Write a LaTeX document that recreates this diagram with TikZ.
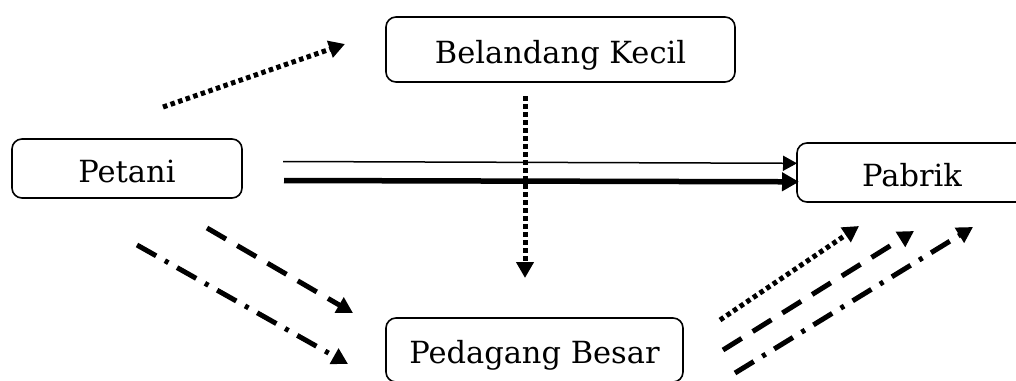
\documentclass[tikz,border=0pt]{standalone}
\usepackage{fontspec}
\setmainfont{DejaVu Serif}
\usetikzlibrary{arrows.meta}
\tikzset{
  box/.style={draw, line width=1.6pt, rounded corners=10pt, inner sep=0pt, align=center, text height=30pt, text depth=3pt, font=\fontsize{30.5}{35}\selectfont},
  dotline/.style={line width=5pt, dash pattern=on 4.5pt off 3.5pt, -{Triangle[length=16pt,width=17pt]}},
  dashline/.style={line width=5pt, dash pattern=on 22pt off 13pt, -{Triangle[length=16pt,width=17pt]}},
  dashdotline/.style={line width=5pt, dash pattern=on 22pt off 10pt on 4pt off 10pt, -{Triangle[length=16pt,width=17pt]}},
  thinline/.style={line width=1.5pt, -{Triangle[length=14pt,width=15pt]}},
  thickline/.style={line width=5.5pt, -{Triangle[length=17pt,width=18pt]}}
}
\begin{document}
\begin{tikzpicture}[x=1pt,y=-1pt]
\clip (0,0) rectangle (1016,380);
\fill[white] (0,0) rectangle (1016,380);

\node[box, minimum width=230pt, minimum height=59pt] (petani) at (127,168.5) {Petani};
\node[box, minimum width=349pt, minimum height=65pt] (belandang) at (560.5,49.5) {Belandang Kecil};
\node[box, minimum width=230pt, minimum height=59pt] (pabrik) at (912,172.5) {Pabrik};
\node[box, minimum width=297pt, minimum height=64pt] (pedagang) at (534.5,350) {Pedagang Besar};

% free ends
\coordinate (a1) at (163,107);  \coordinate (a2) at (345,44);
\coordinate (b1) at (283,161.5);\coordinate (b2) at (797,163.3);
\coordinate (c1) at (284,180.5);\coordinate (c2) at (799,181.8);
\coordinate (d1) at (525,96);   \coordinate (d2) at (525,278);
\coordinate (e1) at (207,228);  \coordinate (e2) at (353,313);
\coordinate (f1) at (137,245);  \coordinate (f2) at (348,364);
\coordinate (g1) at (720,320);  \coordinate (g2) at (859,226);
\coordinate (h1) at (723,350);  \coordinate (h2) at (914,231);
\coordinate (i1) at (735,373);  \coordinate (i2) at (973,227);

\draw[dotline] (a1) -- (a2);
\draw[thinline] (b1) -- (b2);
\draw[thickline] (c1) -- (c2);
\draw[dotline] (d1) -- (d2);
\draw[dashline] (e1) -- (e2);
\draw[dashdotline] (f1) -- (f2);
\draw[dotline] (g1) -- (g2);
\draw[dashline] (h1) -- (h2);
\draw[dashdotline] (i1) -- (i2);
\end{tikzpicture}
\end{document}
